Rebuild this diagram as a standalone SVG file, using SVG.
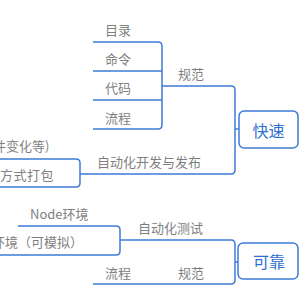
<svg xmlns="http://www.w3.org/2000/svg" width="300" height="300" viewBox="0 0 300 300">
<style>
.ln{fill:none;stroke:#3f7bd6;stroke-width:1.5;stroke-linejoin:round}
.bx{fill:#fff;stroke:#3f7bd6;stroke-width:1.5}
.t{font-family:"Noto Sans CJK SC","Noto Sans",sans-serif;font-size:13px;fill:#7f7f7f;dominant-baseline:central}
.m{font-family:"Noto Sans CJK SC","Noto Sans",sans-serif;font-size:16px;fill:#2f6fd0;dominant-baseline:central;text-anchor:middle}
</style>
<rect width="300" height="300" fill="#fff"/>
<g id="connectors">
<path class="ln" d="M93 42H158Q162 42 162 46V125Q162 129 158 129H93"/>
<path class="ln" d="M93 71H162M93 100H162"/>
<path class="ln" d="M162 86H231Q235 86 235 90V170Q235 174 231 174H80"/>
<path class="ln" d="M235 129H239"/>
<path class="ln" d="M120 240H231Q235 240 235 244V280Q235 284 231 284H93"/>
<path class="ln" d="M235 262H238"/>
</g>
<g id="n-mulu"><text class="t" x="105" y="29">目录</text></g>
<g id="n-mingling"><text class="t" x="105" y="58">命令</text></g>
<g id="n-daima"><text class="t" x="105" y="87">代码</text></g>
<g id="n-liucheng1"><text class="t" x="105" y="117">流程</text></g>
<g id="n-guifan1"><text class="t" x="178" y="73">规范</text></g>
<g id="n-kuaisu"><rect class="bx" x="239" y="111" width="59" height="37" rx="5"/><text class="m" x="268.5" y="129.5">快速</text></g>
<g id="n-bianhua"><text class="t" x="-7" y="145">件变化等)</text></g>
<g id="n-dabao"><path class="bx" d="M-5 159H76Q80 159 80 163V183Q80 187 76 187H-5Z"/><text class="t" x="0" y="174" letter-spacing="0.5">方式打包</text></g>
<g id="n-kaifa"><text class="t" x="97" y="161">自动化开发与发布</text></g>
<g id="n-node"><text class="t" x="30" y="213">Node环境</text></g>
<g id="n-moni"><path class="bx" d="M-5 255H116Q120 255 120 251V230Q120 226 116 226H18"/><text class="t" x="-8" y="241">环境（可模拟）</text></g>
<g id="n-ceshi"><text class="t" x="138" y="227">自动化测试</text></g>
<g id="n-liucheng2"><text class="t" x="105" y="272">流程</text></g>
<g id="n-guifan2"><text class="t" x="178" y="272">规范</text></g>
<g id="n-kekao"><rect class="bx" x="238" y="243" width="60" height="36" rx="5"/><text class="m" x="269" y="261">可靠</text></g>
</svg>
